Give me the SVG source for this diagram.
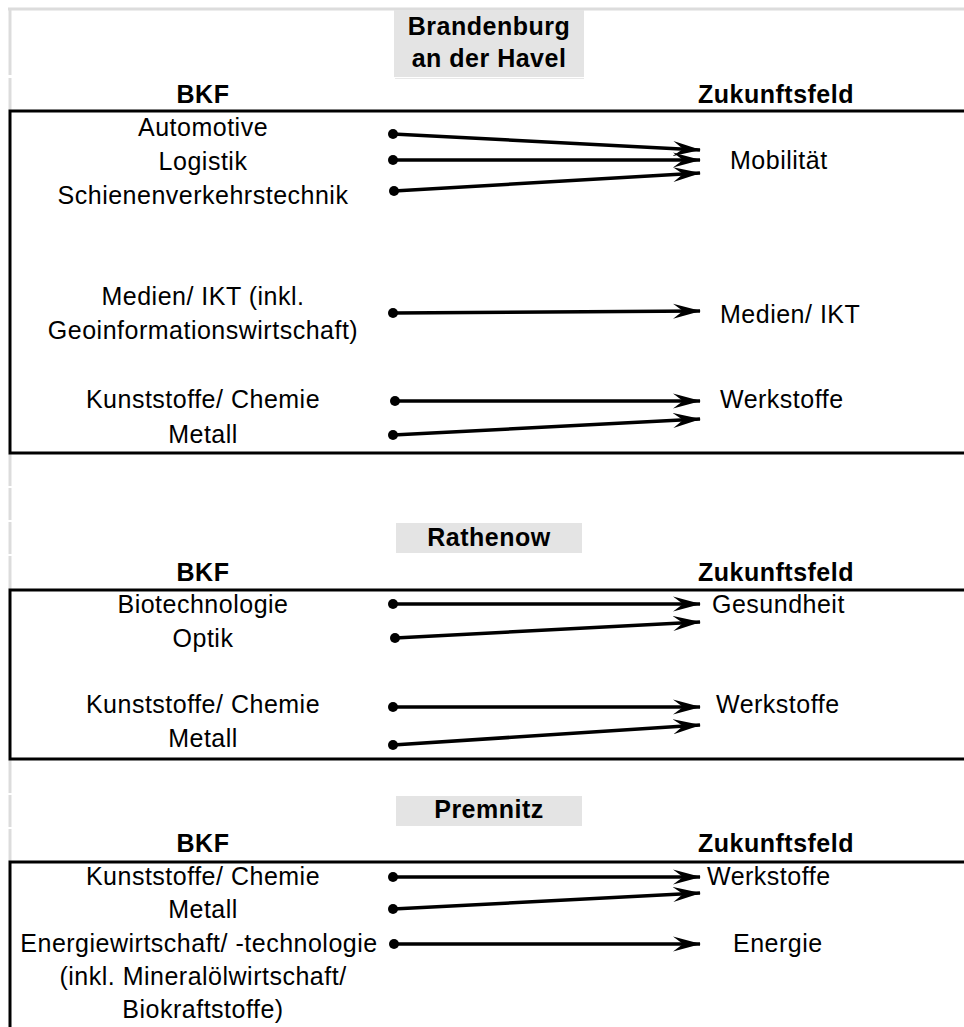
<svg xmlns="http://www.w3.org/2000/svg" width="964" height="1027" viewBox="0 0 964 1027">
<style>
.t{font-family:"Liberation Sans",Arial,sans-serif;font-size:25px;letter-spacing:0.5px;fill:#000}
.b{font-family:"Liberation Sans",Arial,sans-serif;font-size:25px;font-weight:bold;letter-spacing:0.5px;fill:#000}
.c{text-anchor:middle}
.grid{stroke:#dcdcdc;stroke-width:3;fill:none}
.frame{stroke:#000;stroke-width:3;fill:none}
.hdr{fill:#e4e4e4}
.arr{stroke:#000;stroke-width:3.5;fill:none;marker-start:url(#dot);marker-end:url(#head)}
</style>
<defs>
<marker id="head" viewBox="0 0 28 16" refX="27" refY="8" markerWidth="28" markerHeight="16" markerUnits="userSpaceOnUse" orient="auto">
<path d="M0,0.5 L28,8 L0,15.5 L10,8 Z" fill="#000"/>
</marker>
<marker id="dot" viewBox="0 0 10 10" refX="5" refY="5" markerWidth="10" markerHeight="10" markerUnits="userSpaceOnUse">
<circle cx="5" cy="5" r="5" fill="#000"/>
</marker>
</defs>
<rect width="964" height="1027" fill="#fff"/>
<g id="grid">
<line class="grid" x1="8" y1="9" x2="964" y2="9"/>
<line class="grid" x1="10" y1="9" x2="10" y2="75"/>
<line class="grid" x1="10" y1="78" x2="10" y2="110"/>
<line class="grid" x1="10" y1="454" x2="10" y2="486"/>
<line class="grid" x1="10" y1="488" x2="10" y2="520"/>
<line class="grid" x1="10" y1="522" x2="10" y2="554"/>
<line class="grid" x1="10" y1="556" x2="10" y2="589"/>
<line class="grid" x1="10" y1="760" x2="10" y2="793"/>
<line class="grid" x1="10" y1="795" x2="10" y2="827"/>
<line class="grid" x1="10" y1="829" x2="10" y2="861"/>
<line x1="395" y1="78.5" x2="584" y2="78.5" stroke="#e8e8e8" stroke-width="1"/>
</g>
<g id="section-brandenburg">
<rect class="hdr" x="394" y="10" width="190" height="67"/>
<text class="b c" x="489" y="35">Brandenburg</text>
<text class="b c" x="489" y="67">an der Havel</text>
<text class="b c" x="203" y="103">BKF</text>
<text class="b c" x="776" y="103">Zukunftsfeld</text>
<path class="frame" d="M964,111 L10,111 L10,453 L964,453"/>
</g>
<g id="bkf-brb">
<text class="t c" x="203" y="136">Automotive</text>
<text class="t c" x="203" y="170">Logistik</text>
<text class="t c" x="203" y="204">Schienenverkehrstechnik</text>
<text class="t c" x="203" y="305">Medien/ IKT (inkl.</text>
<text class="t c" x="203" y="339">Geoinformationswirtschaft)</text>
<text class="t c" x="203" y="408">Kunststoffe/ Chemie</text>
<text class="t c" x="203" y="443">Metall</text>
</g>
<g id="zf-brb">
<text class="t" x="730" y="169">Mobilität</text>
<text class="t" x="720" y="323">Medien/ IKT</text>
<text class="t" x="720" y="408">Werkstoffe</text>
</g>
<g id="section-rathenow">
<rect class="hdr" x="396" y="523" width="186" height="30"/>
<text class="b c" x="489" y="546">Rathenow</text>
<text class="b c" x="203" y="581">BKF</text>
<text class="b c" x="776" y="581">Zukunftsfeld</text>
<path class="frame" d="M964,590 L10,590 L10,759 L964,759"/>
</g>
<g id="bkf-rat">
<text class="t c" x="203" y="613">Biotechnologie</text>
<text class="t c" x="203" y="647">Optik</text>
<text class="t c" x="203" y="713">Kunststoffe/ Chemie</text>
<text class="t c" x="203" y="747">Metall</text>
</g>
<g id="zf-rat">
<text class="t" x="712" y="613">Gesundheit</text>
<text class="t" x="716" y="713">Werkstoffe</text>
</g>
<g id="section-premnitz">
<rect class="hdr" x="396" y="796" width="186" height="30"/>
<text class="b c" x="489" y="818">Premnitz</text>
<text class="b c" x="203" y="852">BKF</text>
<text class="b c" x="776" y="852">Zukunftsfeld</text>
<path class="frame" d="M964,862 L10,862 L10,1027"/>
</g>
<g id="bkf-prem">
<text class="t c" x="203" y="885">Kunststoffe/ Chemie</text>
<text class="t c" x="203" y="918">Metall</text>
<text class="t c" x="199" y="952">Energiewirtschaft/ -technologie</text>
<text class="t c" x="203" y="985">(inkl. Mineralölwirtschaft/</text>
<text class="t c" x="203" y="1018">Biokraftstoffe)</text>
</g>
<g id="zf-prem">
<text class="t" x="707" y="885">Werkstoffe</text>
<text class="t" x="733" y="952">Energie</text>
</g>
<g id="connectors">
<line class="arr" x1="393" y1="134" x2="700" y2="150"/>
<line class="arr" x1="393" y1="160" x2="700" y2="160"/>
<line class="arr" x1="394" y1="191" x2="700" y2="173"/>
<line class="arr" x1="393" y1="313" x2="700" y2="311"/>
<line class="arr" x1="395" y1="401" x2="700" y2="401"/>
<line class="arr" x1="393" y1="435" x2="700" y2="419"/>
<line class="arr" x1="393" y1="604" x2="700" y2="604"/>
<line class="arr" x1="395" y1="638" x2="700" y2="622"/>
<line class="arr" x1="393" y1="707" x2="700" y2="707"/>
<line class="arr" x1="393" y1="745" x2="700" y2="725"/>
<line class="arr" x1="393" y1="877" x2="700" y2="877"/>
<line class="arr" x1="393" y1="909" x2="700" y2="893"/>
<line class="arr" x1="394" y1="944" x2="700" y2="944"/>
</g>
</svg>
